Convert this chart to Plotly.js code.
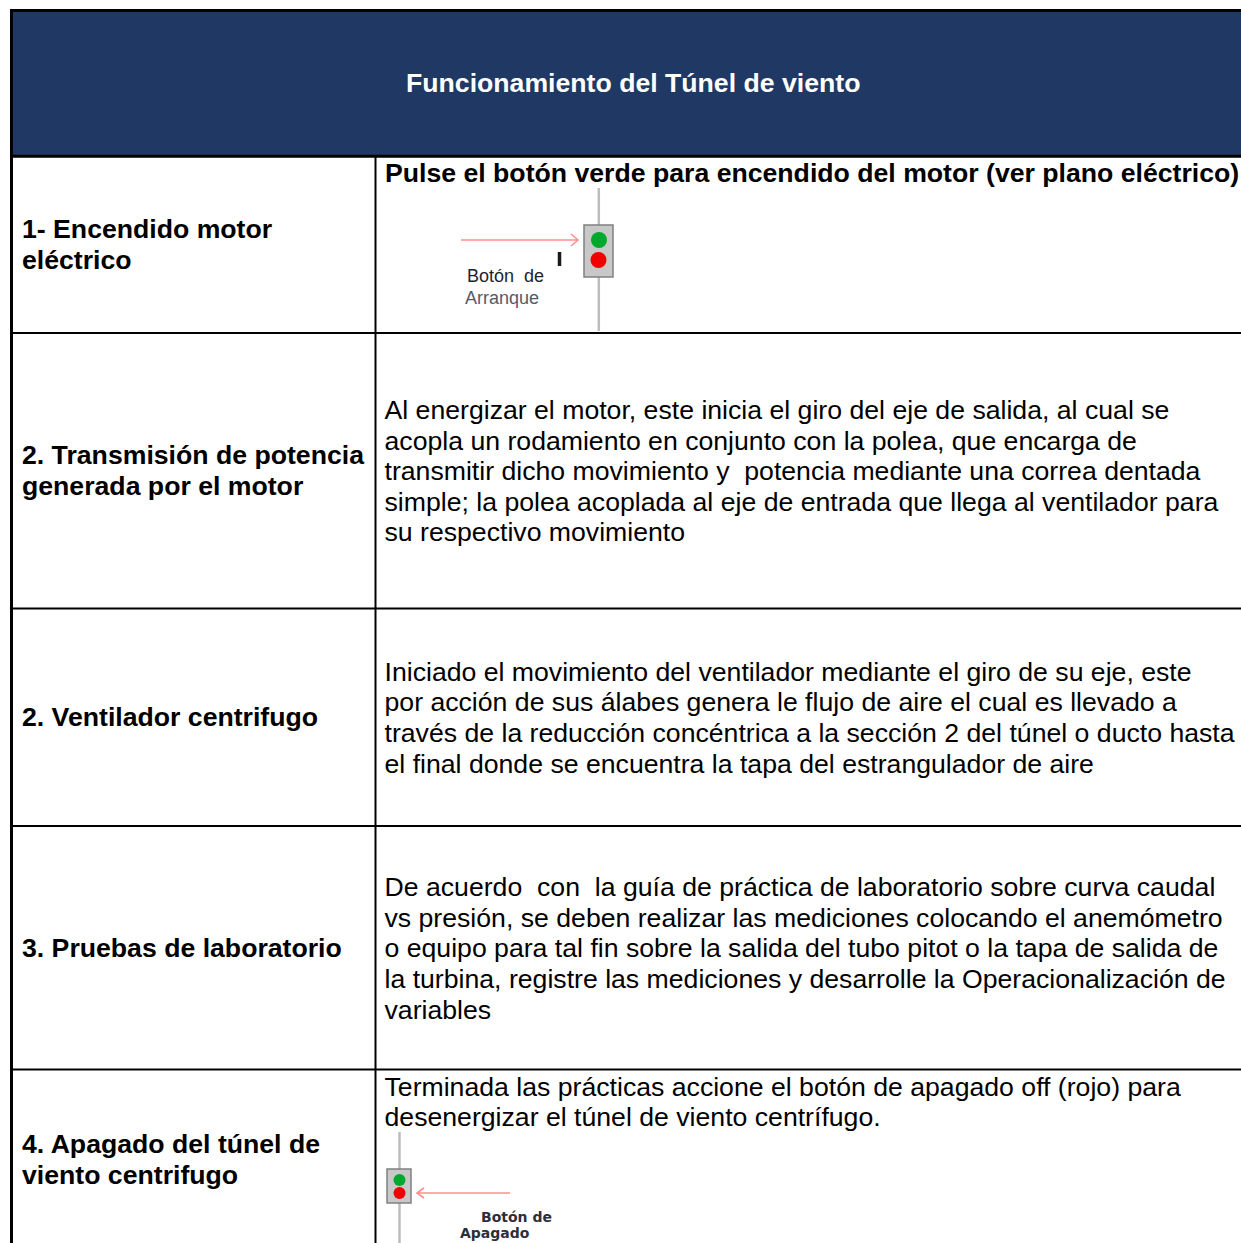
<!DOCTYPE html>
<html lang="es">
<head>
<meta charset="utf-8">
<script src="https://cdn.plot.ly/plotly-3.0.1.min.js"></script>
<style>html,body{margin:0;padding:0;background:#fff;overflow:hidden}#chart{width:1241px;height:1243px}</style>
</head>
<body>
<div id="chart"></div>
<script>
const titleText = ["Funcionamiento del Túnel de viento"];
const titleX = [406];
const titleY = [85];

const stepLabels = ["1- Encendido motor","eléctrico","2. Transmisión de potencia","generada por el motor","2. Ventilador centrifugo","3. Pruebas de laboratorio","4. Apagado del túnel de","viento centrifugo"];
const stepX = [22,22,22,22,22,22,22,22];
const stepY = [231,262,457,488,719,950,1146,1177];

const headingText = ["Pulse el botón verde para encendido del motor (ver plano eléctrico)"];
const headingX = [385];
const headingY = [175];

const bodyLines = [
 "Al energizar el motor, este inicia el giro del eje de salida, al cual se",
 "acopla un rodamiento en conjunto con la polea, que encarga de",
 "transmitir dicho movimiento y \u00a0potencia mediante una correa dentada",
 "simple; la polea acoplada al eje de entrada que llega al ventilador para",
 "su respectivo movimiento",
 "Iniciado el movimiento del ventilador mediante el giro de su eje, este",
 "por acción de sus álabes genera le flujo de aire el cual es llevado a",
 "través de la reducción concéntrica a la sección 2 del túnel o ducto hasta",
 "el final donde se encuentra la tapa del estrangulador de aire",
 "De acuerdo \u00a0con \u00a0la guía de práctica de laboratorio sobre curva caudal",
 "vs presión, se deben realizar las mediciones colocando el anemómetro",
 "o equipo para tal fin sobre la salida del tubo pitot o la tapa de salida de",
 "la turbina, registre las mediciones y desarrolle la Operacionalización de",
 "variables",
 "Terminada las prácticas accione el botón de apagado off (rojo) para",
 "desenergizar el túnel de viento centrífugo."
];
const bodyX = bodyLines.map(() => 384.5);
const bodyY = [412,443,473,504,534,674,704,735,766,889,920,950,981,1012,1089,1119];

const startLabels = ["Botón \u00a0de","Arranque"];
const startLabelX = [467,465];
const startLabelY = [277,299];
const startLabelColors = ["#20242e","#555a68"];
const stopLabels = ["Botón de","Apagado"];
const stopLabelX = [481,460];
const stopLabelY = [1218,1234];

const greenX = [599,399.5];
const greenY = [240,1180];
const redX = [598.5,399.5];
const redY = [260,1193];
const lampSizes = [16,12];

const startArrowX = [461,578,null,571,578,571];
const startArrowY = [240,240,null,234,240,246];
const stopArrowX = [510,417,null,424,417,424];
const stopArrowY = [1193,1193,null,1188,1193,1198];

const rowRules = [333,608.5,826,1069.5];
const panelLeft = 13, panelRight = 1241, headerTop = 10.5, headerBottom = 156.2, columnX = 375.5;
const poles = [[598.8,188,331],[399.5,1132,1243]];
const lampBoxes = [[584,225,613,277],[387,1169,411,1203]];
const startTick = [559.5,252,266];

const ink = "#000000", navy = "#203864", pink = "#ff8f8f", grey = "#bdbdbd", boxFill = "#c8c8c8", boxLine = "#808080";
const sans = "Liberation Sans, Arial, sans-serif";
const mainSize = 26.65;

function textTrace(x, y, text, size, color, family, weight) {
  return {type:"scatter", mode:"text", x, y, text, textposition:"middle right", hoverinfo:"skip",
          textfont:{family:family || sans, size, color, weight:weight || 400}, cliponaxis:false};
}
function lineTrace(x, y, color, width) {
  return {type:"scatter", mode:"lines", x, y, line:{color, width}, hoverinfo:"skip", connectgaps:false};
}
function lamps(x, y, color) {
  return {type:"scatter", mode:"markers", x, y, hoverinfo:"skip",
          marker:{color, size:lampSizes, opacity:1, line:{width:0}}};
}

const data = [
  lineTrace(startArrowX, startArrowY, pink, 1.6),
  lineTrace(stopArrowX, stopArrowY, pink, 1.6),
  lamps(greenX, greenY, "#00a82d"),
  lamps(redX, redY, "#f00000"),
  textTrace(titleX, titleY, titleText, mainSize, "#ffffff", sans, 700),
  textTrace(stepX, stepY, stepLabels, mainSize, ink, sans, 700),
  textTrace(headingX, headingY, headingText, mainSize, ink, sans, 700),
  textTrace(bodyX, bodyY, bodyLines, mainSize, ink, sans, 400),
  textTrace(startLabelX, startLabelY, startLabels, 18, startLabelColors, sans, 400),
  textTrace(stopLabelX, stopLabelY, stopLabels, 14, "#2b2f3a", "DejaVu Sans", 700)
];

const rule = (x0,y0,x1,y1,width,color) => ({type:"line",x0,y0,x1,y1,xref:"x",yref:"y",layer:"below",line:{color:color||ink,width}});
const shapes = [
  {type:"rect",x0:panelLeft,x1:panelRight,y0:headerTop,y1:headerBottom,xref:"x",yref:"y",layer:"below",fillcolor:navy,line:{width:0}},
  rule(panelLeft-3,headerTop,panelRight,headerTop,3),
  rule(panelLeft-3,headerBottom,panelRight,headerBottom,3),
  rule(11.5,headerTop,11.5,1243,3),
  rule(columnX,headerBottom,columnX,1243,2),
  ...rowRules.map(y => rule(panelLeft,y,panelRight,y,2)),
  ...poles.map(p => rule(p[0],p[1],p[0],p[2],2.5,grey)),
  ...lampBoxes.map(b => ({type:"rect",x0:b[0],y0:b[1],x1:b[2],y1:b[3],xref:"x",yref:"y",layer:"below",fillcolor:boxFill,line:{color:boxLine,width:1.5}})),
  rule(startTick[0],startTick[1],startTick[0],startTick[2],3.5,"#1a1a1a")
];

const hidden = {visible:false, fixedrange:true, zeroline:false, showgrid:false};
Plotly.newPlot("chart", data, {
  width:1241, height:1243, margin:{l:0,r:0,t:0,b:0,pad:0},
  paper_bgcolor:"#ffffff", plot_bgcolor:"#ffffff", showlegend:false,
  xaxis:{...hidden, range:[0,1241]},
  yaxis:{...hidden, range:[1243,0]},
  shapes
}, {displayModeBar:false, staticPlot:true});
</script>
</body>
</html>
